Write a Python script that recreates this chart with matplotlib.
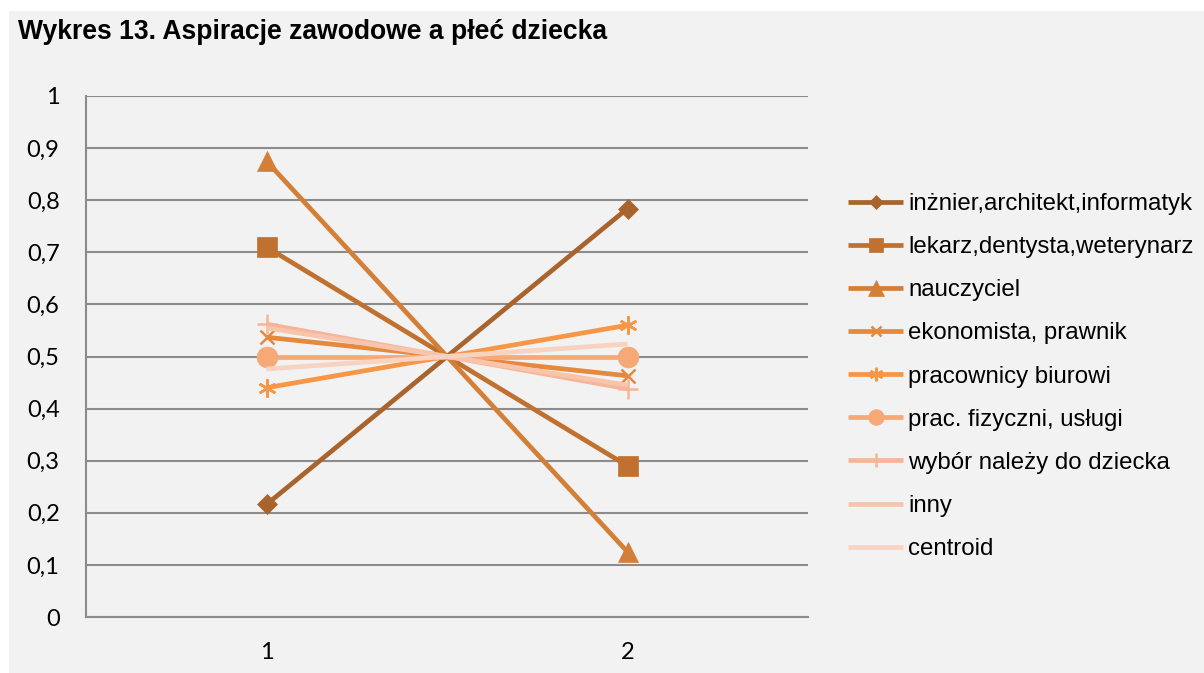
import matplotlib
matplotlib.use("Agg")
import matplotlib.pyplot as plt
from matplotlib.patches import Rectangle

categories = [1, 2]
series_names = [
    "inżnier,architekt,informatyk",
    "lekarz,dentysta,weterynarz",
    "nauczyciel",
    "ekonomista, prawnik",
    "pracownicy biurowi",
    "prac. fizyczni, usługi",
    "wybór należy do dziecka",
    "inny",
    "centroid",
]
inzynier = [0.216, 0.784]
lekarz = [0.71, 0.29]
nauczyciel = [0.875, 0.125]
ekonomista = [0.537, 0.463]
biurowi = [0.44, 0.56]
fizyczni = [0.5, 0.5]
wybor = [0.562, 0.438]
inny = [0.555, 0.445]
centroid = [0.476, 0.524]
y_ticks = [0, 0.1, 0.2, 0.3, 0.4, 0.5, 0.6, 0.7, 0.8, 0.9, 1]
y_tick_labels = ["0", "0,1", "0,2", "0,3", "0,4", "0,5", "0,6", "0,7", "0,8", "0,9", "1"]
x_tick_labels = ["1", "2"]

values = [inzynier, lekarz, nauczyciel, ekonomista, biurowi, fizyczni, wybor, inny, centroid]
colors = ["#A8642C", "#C0702F", "#D47F38", "#E5893D", "#F79646", "#F7A877",
          "#F6B597", "#F8C4AB", "#F9D3C1"]
markers = ["D", "s", "^", "x", (6, 2, 0), "o", "+", None, None]
msizes = [10, 14, 15, 10, 13, 15, 14, 0, 0]

W, H = 1204, 673
fig = plt.figure(figsize=(W / 100, H / 100), dpi=100)
fig.patch.set_facecolor("white")
fig.patches.append(Rectangle((9 / W, 0), 1 - 9 / W, (H - 11) / H, transform=fig.transFigure,
                             facecolor="#F2F2F2", edgecolor="none", zorder=-10))

ax = fig.add_axes([86 / W, (H - 617) / H, (808 - 86) / W, (617 - 96) / H])
ax.set_facecolor("none")

for name, vals, c, m, ms in zip(series_names, values, colors, markers, msizes):
    ax.plot(categories, vals, color=c, lw=3.4, marker=m, markersize=ms,
            markeredgewidth=1.8 if m in ("x", "+") or isinstance(m, tuple) else 0.5,
            markeredgecolor=c, markerfacecolor=c, label=name, solid_capstyle="butt",
            clip_on=False)

ax.set_xlim(0.5, 2.5)
ax.set_ylim(0, 1)
ax.set_yticks(y_ticks)
ax.set_yticklabels(y_tick_labels)
ax.set_xticks(categories)
ax.set_xticklabels(x_tick_labels)
ax.tick_params(axis="both", length=0, labelsize=17, colors="#000000")
ax.tick_params(axis="y", pad=19)
ax.tick_params(axis="x", pad=18)
for lab in ax.get_xticklabels() + ax.get_yticklabels():
    lab.set_fontfamily("Lato")

ax.grid(axis="y", color="#8C8C8C", lw=1.5)
ax.set_axisbelow(True)
for s in ["top", "right"]:
    ax.spines[s].set_visible(False)
for s in ["left", "bottom"]:
    ax.spines[s].set_color("#8C8C8C")
    ax.spines[s].set_linewidth(1.5)

leg = fig.legend(loc="upper left", bbox_to_anchor=(848 / W, 1 - 193 / H),
                 frameon=False, prop={"family": "Liberation Sans", "size": 17.3},
                 handlelength=2.3, handletextpad=0.2, labelspacing=0.88,
                 borderaxespad=0, borderpad=0, markerscale=0.75)

fig.text(18 / W, 1 - 32 / H, "Wykres 13. Aspiracje zawodowe a płeć dziecka",
         fontfamily="Liberation Sans", fontweight="bold", fontsize=19.1,
         ha="left", va="center")

fig.savefig("out.png", dpi=100)
